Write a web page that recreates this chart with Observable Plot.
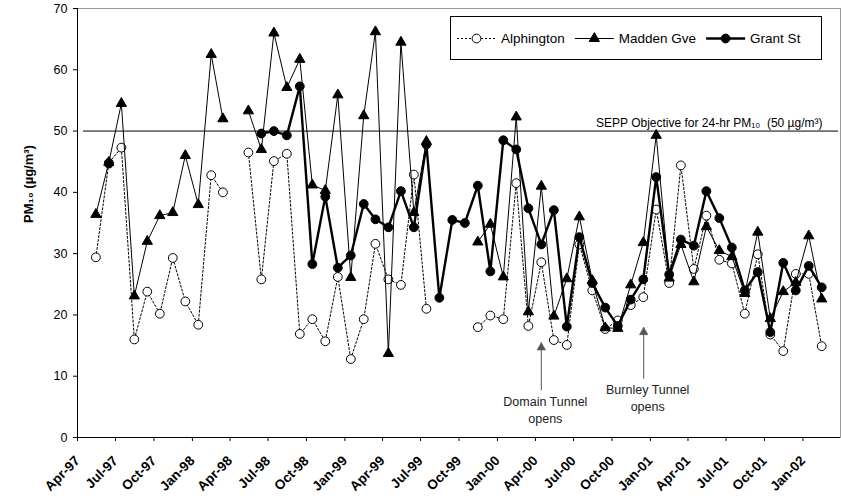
<!DOCTYPE html>
<html>
<head>
<meta charset="utf-8">
<script src="https://cdn.jsdelivr.net/npm/d3@7"></script>
<script src="https://cdn.jsdelivr.net/npm/@observablehq/plot@0.6"></script>
<style>
  body { margin: 0; background: #fff; }
  #chart svg { display: block; }
</style>
</head>
<body>
<div id="chart"></div>
<script>
// Monthly mean PM10 (µg/m³) at three monitoring sites, May 1997 – Feb 2002.
// null marks a month without a valid monthly value (the line breaks there).
const months = [
  "1997-05","1997-06","1997-07","1997-08","1997-09","1997-10","1997-11","1997-12",
  "1998-01","1998-02","1998-03","1998-04","1998-05","1998-06","1998-07","1998-08","1998-09","1998-10","1998-11","1998-12",
  "1999-01","1999-02","1999-03","1999-04","1999-05","1999-06","1999-07","1999-08","1999-09","1999-10","1999-11","1999-12",
  "2000-01","2000-02","2000-03","2000-04","2000-05","2000-06","2000-07","2000-08","2000-09","2000-10","2000-11","2000-12",
  "2001-01","2001-02","2001-03","2001-04","2001-05","2001-06","2001-07","2001-08","2001-09","2001-10","2001-11","2001-12",
  "2002-01","2002-02"
];

const alphington = [
  29.4, 44.8, 47.3, 16.0, 23.8, 20.2, 29.3, 22.2,
  18.4, 42.8, 40.0, null, 46.5, 25.8, 45.1, 46.3, 16.9, 19.3, 15.7, 26.2,
  12.8, 19.3, 31.6, 25.8, 24.9, 42.9, 21.0, null, null, null, 18.0, 19.9,
  19.3, 41.5, 18.2, 28.6, 15.9, 15.1, 31.5, 24.0, 17.7, 19.1, 21.6, 22.9,
  37.2, 25.2, 44.4, 27.5, 36.2, 29.0, 28.4, 20.2, 29.9, 16.8, 14.1, 26.7,
  26.7, 14.9
];

const maddenGve = [
  36.4, 44.9, 54.5, 23.1, 32.0, 36.2, 36.7, 46.0,
  38.0, 62.5, 52.0, null, 53.3, 47.0, 66.0, 57.1, 61.7, 41.2, 40.3, 55.9,
  26.1, 52.5, 66.2, 13.7, 64.5, 36.7, 48.3, null, null, null, 31.9, 34.8,
  26.2, 52.3, 20.5, 41.0, 19.8, 25.9, 36.0, 25.6, 17.9, 17.8, 24.9, 31.8,
  49.3, 26.0, 31.5, 25.4, 34.4, 30.5, 29.5, 23.5, 33.5, 19.4, 23.8, 25.3,
  32.9, 22.6
];

const grantSt = [
  null, 44.7, null, null, null, null, null, null,
  null, null, null, null, null, 49.6, 50.0, 49.3, 57.3, 28.3, 39.3, 27.7,
  29.7, 38.1, 35.6, 34.3, 40.2, 34.3, 47.8, 22.8, 35.5, 35.0, 41.1, 27.1,
  48.5, 47.0, 37.4, 31.5, 37.1, 18.1, 32.7, 25.2, 21.2, 18.2, 22.5, 25.8,
  42.5, 26.6, 32.3, 31.3, 40.2, 35.8, 31.0, 24.0, 27.0, 17.2, 28.5, 24.0,
  28.0, 24.5
];

// Axis extent and quarterly tick dates
const xStart = "1997-04-01";
const xEnd = "2002-04-01";
const tickDates = [
  "1997-04-01","1997-07-01","1997-10-01","1998-01-01","1998-04-01","1998-07-01","1998-10-01",
  "1999-01-01","1999-04-01","1999-07-01","1999-10-01","2000-01-01","2000-04-01","2000-07-01",
  "2000-10-01","2001-01-01","2001-04-01","2001-07-01","2001-10-01","2002-01-01"
];
const yTicks = [0, 10, 20, 30, 40, 50, 60, 70];

// Air quality objective line
const objective = 50;
const objectiveLabel = "SEPP Objective for 24-hr PM₁₀  (50 µg/m³)";

// Tunnel openings: arrow tip value, arrow tail value, label
const eventDates = ["2000-04-15", "2000-12-16"];
const eventTips = [15.5, 18.0];
const eventTails = [7.7, 9.6];
const eventLabels = ["Domain Tunnel\nopens", "Burnley Tunnel\nopens"];

const FONT = "'Liberation Sans', Arial, Helvetica, sans-serif";
const utc = s => new Date(s.length === 7 ? s + "-15T00:00:00Z" : s + "T00:00:00Z");
const fmt = d3.utcFormat("%b-%y");

const series = [
  { name: "Alphington", values: alphington, width: 1, dash: "2,2", symbol: "circle", fill: "white", r: 4.4 },
  { name: "Madden Gve", values: maddenGve, width: 1, dash: null, symbol: "triangle", fill: "black", r: 3.8 },
  { name: "Grant St", values: grantSt, width: 2.4, dash: null, symbol: "circle", fill: "black", r: 4.4 }
];

const seriesMarks = series.flatMap(s => {
  const rows = months.map((m, i) => ({ date: utc(m), value: s.values[i] }));
  return [
    Plot.line(rows, { x: "date", y: "value", stroke: "black", strokeWidth: s.width, strokeDasharray: s.dash }),
    Plot.dot(rows.filter(d => d.value != null), {
      x: "date", y: "value", symbol: s.symbol, r: s.r,
      fill: s.fill, stroke: "black", strokeWidth: 1
    })
  ];
});

const events = eventDates.map((d, i) => ({
  date: utc(d), tip: eventTips[i], tail: eventTails[i], label: eventLabels[i]
}));

const chart = Plot.plot({
  width: 841,
  height: 500,
  marginLeft: 77,
  marginRight: 1,
  marginTop: 8,
  marginBottom: 63,
  style: { fontFamily: FONT, background: "#fff", color: "#000", overflow: "visible" },
  x: { type: "utc", domain: [utc(xStart), utc(xEnd)] },
  y: { domain: [0, 70] },
  marks: [
    Plot.frame({ stroke: "#9a9a9a" }),
    Plot.ruleY([objective], { stroke: "black", strokeWidth: 1, insetLeft: 6, insetRight: 2 }),
    Plot.text([objectiveLabel], {
      frameAnchor: "right", y: () => objective, text: d => d,
      textAnchor: "end", lineAnchor: "bottom", dx: -18, dy: -4, fontSize: 12, fill: "black"
    }),
    ...seriesMarks,
    // tunnel-opening arrows
    Plot.link(events, { x1: "date", x2: "date", y1: "tail", y2: "tip", stroke: "#555", strokeWidth: 1 }),
    Plot.dot(events, { x: "date", y: "tip", symbol: "triangle", r: 3.2, fill: "#555", stroke: "#555", strokeWidth: 0.5, dy: 5 }),
    Plot.text(events, {
      x: "date", y: "tail", text: "label", lineAnchor: "top", dy: 4, dx: 4,
      fontSize: 12.5, lineHeight: 1.33, fill: "#222"
    }),
    // axes
    Plot.ruleX([utc(xStart)], { stroke: "black", strokeWidth: 1 }),
    Plot.ruleY([0], { stroke: "black", strokeWidth: 1 }),
    Plot.axisY({ ticks: yTicks, tickSize: 4, tickPadding: 6, fontSize: 12.5, label: null, tickFormat: d => String(d) }),
    Plot.axisX({ ticks: tickDates.map(utc), tickSize: 4, tickPadding: 17, tickRotate: -45, fontSize: 13.5, tickFormat: fmt, label: null }),
    Plot.text(["PM₁₀ (µg/m³)"], {
      frameAnchor: "left", text: d => d, rotate: -90, dx: -49, fontSize: 13, fontWeight: "bold", fill: "black"
    })
  ]
});

document.getElementById("chart").appendChild(chart);

const svg = d3.select(chart);
svg.selectAll('[aria-label="x-axis tick label"] text').attr("font-weight", "bold");

// Legend inside the plot area
const legend = svg.append("g")
  .attr("font-family", FONT).attr("font-size", 13.5).attr("text-anchor", "start");
legend.append("rect")
  .attr("x", 450.5).attr("y", 16.5).attr("width", 371).attr("height", 43)
  .attr("fill", "white").attr("stroke", "black").attr("stroke-width", 1);
let lx = 457;
const ly = 38.5;
series.forEach(s => {
  const sample = 39;
  legend.append("line")
    .attr("x1", lx).attr("x2", lx + sample).attr("y1", ly).attr("y2", ly)
    .attr("stroke", "black").attr("stroke-width", s.width)
    .attr("stroke-dasharray", s.dash);
  const sym = s.symbol === "triangle" ? d3.symbolTriangle : d3.symbolCircle;
  legend.append("path")
    .attr("d", d3.symbol(sym, Math.PI * s.r * s.r)())
    .attr("transform", `translate(${lx + sample / 2},${ly})`)
    .attr("fill", s.fill).attr("stroke", "black");
  const t = legend.append("text")
    .attr("x", lx + sample + 5).attr("y", ly).attr("dy", "0.35em")
    .attr("fill", "black").text(s.name);
  lx = lx + sample + 5 + t.node().getComputedTextLength() + 10;
});
</script>
</body>
</html>
